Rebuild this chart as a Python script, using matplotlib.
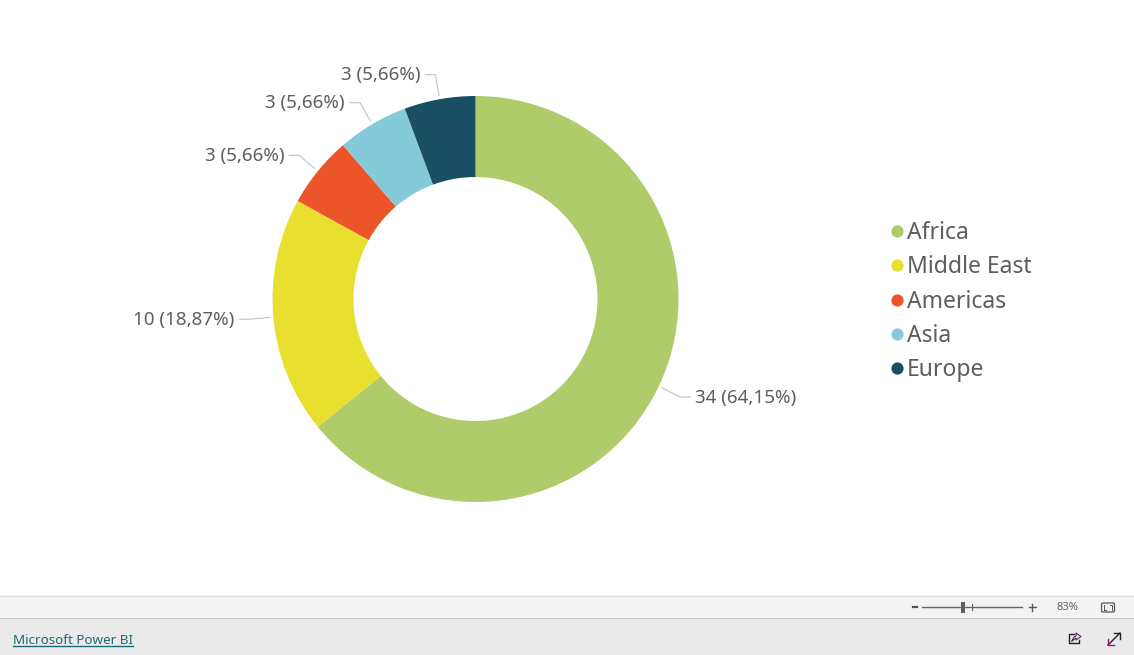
import numpy as np
import matplotlib
matplotlib.use("Agg")
import matplotlib.pyplot as plt
from matplotlib.patches import Rectangle, FancyBboxPatch

plt.rcParams['font.family'] = ['Noto Sans', 'DejaVu Sans']

regions = ['Africa', 'Middle East', 'Americas', 'Asia', 'Europe']
counts = [34, 10, 3, 3, 3]
colors = ['#B0CB6A', '#E9DF2E', '#EB5529', '#84CAD9', '#1A4E63']
legend_y = [231, 265, 299.5, 334, 368]

W, H = 1134, 655
TEXT = '#605E5C'

fig = plt.figure(figsize=(W / 100, H / 100), dpi=100)
ax = fig.add_axes([0, 0, 1, 1])

# work in screen pixels, y going up
def py(y):
    return H - y

cx, cy, R, hole = 475.5, 299, 203, 122
ax.pie(counts, colors=colors, startangle=90, counterclock=False,
       center=(cx, py(cy)), radius=R, frame=True,
       wedgeprops=dict(width=R - hole, linewidth=0))
ax.set_xlim(0, W)
ax.set_ylim(0, H)
ax.set_aspect('auto')
ax.axis('off')

# data labels with leader lines
total = sum(counts)
start = 0
for n in counts:
    mid = np.radians((start + n / 2) / total * 360)
    start += n
    sx, sy = np.sin(mid), np.cos(mid)
    x0, y0 = cx + sx * (R + 4), cy - sy * (R + 4)
    x1, y1 = cx + sx * (R + 24), cy - sy * (R + 25)
    side = 1 if sx > 0 else -1
    x2 = x1 + side * 10
    ax.plot([x0, x1, x2], [py(y0), py(y1), py(y1)], color='#C8C8C8', lw=0.9, zorder=3)
    label = '%d (%.2f%%)' % (n, n / total * 100)
    ax.text(x2 + side * 5, py(y1 - 1.5), label.replace('.', ','), color=TEXT, fontsize=13.5,
            ha='left' if side > 0 else 'right', va='center_baseline')

# legend
for name, col, y in zip(regions, colors, legend_y):
    ax.plot([896.7], [py(y)], 'o', ms=8.8, color=col, mec='none')
    ax.text(907, py(y - 1), name, color=TEXT, fontsize=16.5, va='center_baseline')

# footer bars
ax.add_patch(Rectangle((0, py(617)), W, 22, fc='#F3F3F3', ec='none', zorder=4))
ax.add_patch(Rectangle((0, 0), W, py(618), fc='#EAEAEA', ec='none', zorder=4))
ax.plot([0, W], [py(595.5)] * 2, color='#E1E1E1', lw=1, zorder=5)
ax.plot([0, W], [py(617.8)] * 2, color='#C8C8C8', lw=1, zorder=5)

ax.text(13, py(639), 'Microsoft Power BI', color='#1A6B72', fontsize=9.7, va='center_baseline', zorder=6)
ax.plot([13, 133], [py(646)] * 2, color='#1A6B72', lw=1, zorder=6)

# zoom slider
ax.plot([913, 917], [py(607)] * 2, color='#555555', lw=1.6, zorder=6)
ax.plot([922, 1022], [py(607)] * 2, color='#666666', lw=1, zorder=6)
ax.add_patch(Rectangle((961, py(612.5)), 4, 11, fc='#606060', ec='none', zorder=6))
ax.plot([972, 972], [py(604), py(610)], color='#666666', lw=0.8, zorder=6)
ax.plot([1028.5, 1035.5], [py(607)] * 2, color='#555555', lw=1, zorder=6)
ax.plot([1032, 1032], [py(603.5), py(610.5)], color='#555555', lw=1, zorder=6)
ax.text(1067, py(607), '83%', color='#666666', fontsize=8, ha='center', va='center', zorder=6)
ax.add_patch(FancyBboxPatch((1101.5, py(612)), 13, 9, boxstyle='round,pad=0,rounding_size=1.5',
                            fc='#F3F3F3', ec='#555555', lw=0.9, zorder=6))
ax.plot([1104, 1104, 1106], [py(605), py(609.5), py(609.5)], color='#555555', lw=0.7, zorder=7)
ax.plot([1110, 1112, 1112], [py(605), py(605), py(609.5)], color='#555555', lw=0.7, zorder=7)

# share icon
ax.plot([1074, 1069, 1069, 1079, 1079], [py(634), py(634), py(643), py(643), py(640)],
        color='#222222', lw=1, zorder=6)
ax.plot([1072, 1074, 1076, 1076, 1081, 1076, 1076, 1072],
        [py(641), py(637), py(636), py(633), py(636.5), py(640), py(638), py(641)],
        color='#5A2A6A', lw=0.8, zorder=7)

# expand icon
ax.plot([1108, 1120], [py(645), py(633)], color='#222222', lw=1, zorder=6)
ax.plot([1114, 1120, 1120], [py(633), py(633), py(639)], color='#222222', lw=1, zorder=6)
ax.plot([1108, 1108, 1114], [py(639), py(645), py(645)], color='#8A1A6A', lw=1, zorder=6)

fig.savefig('out.png', dpi=100)
